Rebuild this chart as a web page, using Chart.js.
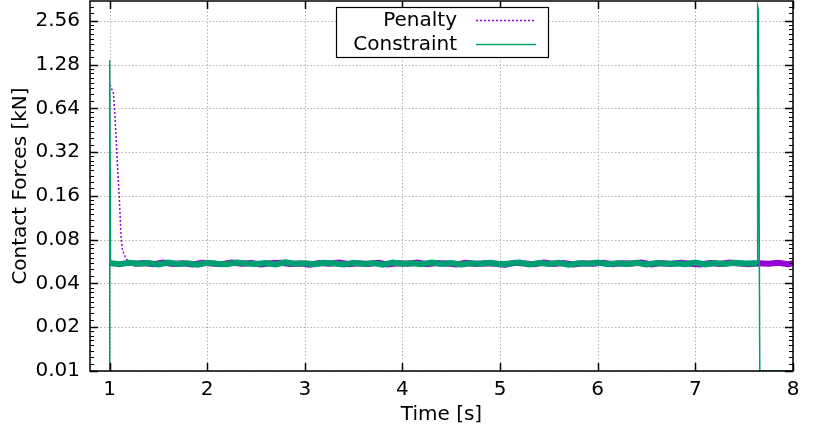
<!DOCTYPE html>
<html>
<head>
<meta charset="utf-8">
<script src="https://cdn.jsdelivr.net/npm/chart.js@4.4.1/dist/chart.umd.min.js"></script>
<style>
  html, body { margin: 0; padding: 0; background: #ffffff; }
  canvas { display: block; }
</style>
</head>
<body>
<canvas id="c" width="830" height="448"></canvas>
<script>
// ---- data ----
const xTicks = [1, 2, 3, 4, 5, 6, 7, 8];
const yTicks = [0.01, 0.02, 0.04, 0.08, 0.16, 0.32, 0.64, 1.28, 2.56];
const yTickLabels = ['0.01', '0.02', '0.04', '0.08', '0.16', '0.32', '0.64', '1.28', '2.56'];
const seriesLabels = ['Penalty', 'Constraint'];

const penaltyTimes = [
  1.005, 1.02, 1.04, 1.05, 1.06, 1.068, 1.08, 1.096, 1.108, 1.119, 1.13, 1.143, 1.16, 1.18,
  1.25, 1.35, 1.45, 1.55, 1.65, 1.75, 1.85, 1.95, 2.05, 2.15,
  2.25, 2.35, 2.45, 2.55, 2.65, 2.75, 2.85, 2.95, 3.05, 3.15,
  3.25, 3.35, 3.45, 3.55, 3.65, 3.75, 3.85, 3.95, 4.05, 4.15,
  4.25, 4.35, 4.45, 4.55, 4.65, 4.75, 4.85, 4.95, 5.05, 5.15,
  5.25, 5.35, 5.45, 5.55, 5.65, 5.75, 5.85, 5.95, 6.05, 6.15,
  6.25, 6.35, 6.45, 6.55, 6.65, 6.75, 6.85, 6.95, 7.05, 7.15,
  7.25, 7.35, 7.45, 7.55, 7.65, 7.75, 7.85, 7.95, 8.0
];
const penaltyValues = [
  0.93, 0.88, 0.81, 0.65, 0.50, 0.39, 0.27, 0.175, 0.12, 0.08, 0.07, 0.065, 0.061, 0.058,
  0.0547, 0.0553, 0.0542, 0.0556, 0.0545, 0.0551, 0.0540, 0.0554, 0.0548, 0.0543,
  0.0557, 0.0546, 0.0552, 0.0541, 0.0550, 0.0555, 0.0544, 0.0549, 0.0539, 0.0553,
  0.0547, 0.0556, 0.0542, 0.0551, 0.0545, 0.0554, 0.0540, 0.0550, 0.0546, 0.0557,
  0.0543, 0.0552, 0.0548, 0.0541, 0.0555, 0.0544, 0.0551, 0.0547, 0.0539, 0.0554,
  0.0549, 0.0542, 0.0556, 0.0545, 0.0553, 0.0540, 0.0550, 0.0546, 0.0555, 0.0543,
  0.0551, 0.0548, 0.0557, 0.0541, 0.0552, 0.0544, 0.0554, 0.0547, 0.0540, 0.0553,
  0.0545, 0.0556, 0.0549, 0.0542, 0.0551, 0.0546, 0.0554, 0.0543, 0.0550
];

const constraintTimes = [
  0.995, 1.0, 1.004, 1.01,
  1.02, 1.1, 1.2, 1.3, 1.4, 1.5, 1.6, 1.7, 1.8, 1.9,
  2.0, 2.1, 2.2, 2.3, 2.4, 2.5, 2.6, 2.7, 2.8, 2.9,
  3.0, 3.1, 3.2, 3.3, 3.4, 3.5, 3.6, 3.7, 3.8, 3.9,
  4.0, 4.1, 4.2, 4.3, 4.4, 4.5, 4.6, 4.7, 4.8, 4.9,
  5.0, 5.1, 5.2, 5.3, 5.4, 5.5, 5.6, 5.7, 5.8, 5.9,
  6.0, 6.1, 6.2, 6.3, 6.4, 6.5, 6.6, 6.7, 6.8, 6.9,
  7.0, 7.1, 7.2, 7.3, 7.4, 7.5, 7.6, 7.632,
  7.638, 7.645, 7.66, 8.0
];
const constraintValues = [
  0.01, 1.37, 1.35, 0.0552,
  0.0550, 0.0543, 0.0555, 0.0546, 0.0552, 0.0541, 0.0557, 0.0545, 0.0551, 0.0539,
  0.0554, 0.0547, 0.0542, 0.0556, 0.0549, 0.0544, 0.0553, 0.0540, 0.0558, 0.0546,
  0.0551, 0.0543, 0.0555, 0.0548, 0.0541, 0.0554, 0.0545, 0.0552, 0.0539, 0.0557,
  0.0547, 0.0550, 0.0542, 0.0556, 0.0544, 0.0553, 0.0540, 0.0551, 0.0546, 0.0555,
  0.0543, 0.0549, 0.0557, 0.0541, 0.0552, 0.0545, 0.0554, 0.0539, 0.0550, 0.0547,
  0.0556, 0.0542, 0.0551, 0.0544, 0.0555, 0.0540, 0.0553, 0.0546, 0.0549, 0.0543,
  0.0557, 0.0541, 0.0552, 0.0545, 0.0554, 0.0548, 0.0550, 0.0547,
  3.2, 3.05, 0.01, 0.01
];

// ---- styling ----
const FONT = 'DejaVu Sans';
const PURPLE = '#9400d3';
const TEAL = '#009e73';

const toPoints = (xs, ys) => xs.map((x, i) => ({ x: x, y: ys[i] }));
const inBand = c => c.p0.parsed.y > 0.02 && c.p0.parsed.y < 0.057 && c.p1.parsed.y > 0.02 && c.p1.parsed.y < 0.057;

const framePlugin = {
  id: 'gnuplotFrame',
  beforeDatasetsDraw(chart) {
    const { ctx, chartArea: a, scales: { x, y } } = chart;
    ctx.save();
    ctx.strokeStyle = '#b4b4b4';
    ctx.lineWidth = 1;
    ctx.setLineDash([1.5, 2]);
    xTicks.forEach(v => {
      const px = Math.round(x.getPixelForValue(v)) + 0.5;
      ctx.beginPath(); ctx.moveTo(px, a.top); ctx.lineTo(px, a.bottom); ctx.stroke();
    });
    yTicks.forEach(v => {
      const py = Math.round(y.getPixelForValue(v)) + 0.5;
      ctx.beginPath(); ctx.moveTo(a.left, py); ctx.lineTo(a.right, py); ctx.stroke();
    });
    ctx.restore();
  },
  afterDatasetsDraw(chart) {
    const { ctx, chartArea: a, scales: { x, y } } = chart;
    ctx.save();
    ctx.strokeStyle = '#000';
    ctx.lineWidth = 1.5;
    ctx.setLineDash([]);
    xTicks.forEach(v => {
      const px = Math.round(x.getPixelForValue(v)) + 0.5;
      ctx.beginPath();
      ctx.moveTo(px, a.bottom); ctx.lineTo(px, a.bottom - 8);
      ctx.moveTo(px, a.top); ctx.lineTo(px, a.top + 8);
      ctx.stroke();
    });
    yTicks.forEach(v => {
      const py = Math.round(y.getPixelForValue(v)) + 0.5;
      ctx.beginPath();
      ctx.moveTo(a.left, py); ctx.lineTo(a.left + 8, py);
      ctx.moveTo(a.right, py); ctx.lineTo(a.right - 8, py);
      ctx.stroke();
    });
    ctx.lineWidth = 1.2;
    yTicks.forEach(v => {
      for (let k = 1; k < 8; k++) {
        const val = v * (1 + k / 8);
        if (val > y.max) break;
        const py = Math.round(y.getPixelForValue(val)) + 0.5;
        ctx.beginPath();
        ctx.moveTo(a.left, py); ctx.lineTo(a.left + 4, py);
        ctx.moveTo(a.right, py); ctx.lineTo(a.right - 4, py);
        ctx.stroke();
      }
    });
    ctx.lineWidth = 1.5;
    ctx.strokeRect(a.left, a.top, a.right - a.left, a.bottom - a.top);

    // legend (gnuplot style)
    const bx = 336, by = 7, bw = 212, bh = 50;
    ctx.fillStyle = '#fff';
    ctx.fillRect(bx, by, bw, bh);
    ctx.lineWidth = 1.2;
    ctx.strokeStyle = '#000';
    ctx.strokeRect(bx + 0.5, by + 0.5, bw, bh);
    ctx.font = '20px "' + FONT + '"';
    ctx.fillStyle = '#000';
    ctx.textAlign = 'right';
    ctx.textBaseline = 'middle';
    const rows = [20, 44];
    chart.data.datasets.forEach((ds, i) => {
      const ry = rows[i];
      ctx.fillText(ds.label, 457, ry + 1);
      ctx.strokeStyle = ds.borderColor;
      ctx.lineWidth = 1.5;
      ctx.setLineDash(ds.borderDash || []);
      ctx.beginPath(); ctx.moveTo(476, ry + 0.5); ctx.lineTo(536, ry + 0.5); ctx.stroke();
    });
    ctx.restore();
  }
};

new Chart(document.getElementById('c'), {
  type: 'line',
  data: {
    datasets: [
      {
        label: seriesLabels[0],
        data: toPoints(penaltyTimes, penaltyValues),
        borderColor: PURPLE,
        borderWidth: 1.5,
        borderDash: [2, 2],
        pointRadius: 0,
        tension: 0,
        order: 1,
        segment: {
          borderWidth: c => inBand(c) ? 6 : 1.5,
          borderDash: c => inBand(c) ? [] : [2, 2]
        }
      },
      {
        label: seriesLabels[1],
        data: toPoints(constraintTimes, constraintValues),
        borderColor: TEAL,
        borderWidth: 1.5,
        pointRadius: 0,
        tension: 0,
        order: 0,
        segment: {
          borderWidth: c => inBand(c) ? 6 : 1.5
        }
      }
    ]
  },
  options: {
    responsive: false,
    animation: false,
    events: [],
    layout: { padding: { top: 1, right: 37, left: 0, bottom: 0 } },
    plugins: { legend: { display: false }, tooltip: { enabled: false }, title: { display: false } },
    scales: {
      x: {
        type: 'linear',
        min: 0.8,
        max: 8,
        afterBuildTicks: s => { s.ticks = xTicks.map(v => ({ value: v })); },
        afterFit: s => { s.height = 77; s.paddingLeft = 0; s.paddingRight = 0; },
        grid: { display: false, drawTicks: false },
        border: { display: false },
        ticks: {
          autoSkip: false, maxRotation: 0, padding: 7, color: '#000',
          font: { family: FONT, size: 20 },
          callback: v => String(v)
        },
        title: {
          display: true, text: 'Time [s]', color: '#000',
          font: { family: FONT, size: 20 },
          padding: { top: 0, bottom: 21 }
        }
      },
      y: {
        type: 'logarithmic',
        min: 0.01,
        max: 3.5,
        afterBuildTicks: s => { s.ticks = yTicks.map(v => ({ value: v })); },
        afterFit: s => { s.width = 90; s.paddingTop = 0; s.paddingBottom = 0; },
        grid: { display: false, drawTicks: false },
        border: { display: false },
        ticks: {
          autoSkip: false, padding: 10, color: '#000',
          font: { family: FONT, size: 20 },
          callback: (v, i) => yTickLabels[i]
        },
        title: {
          display: true, text: 'Contact Forces [kN]', color: '#000',
          font: { family: FONT, size: 20 },
          padding: { top: 9, bottom: 0 }
        }
      }
    }
  },
  plugins: [framePlugin]
});
</script>
</body>
</html>
